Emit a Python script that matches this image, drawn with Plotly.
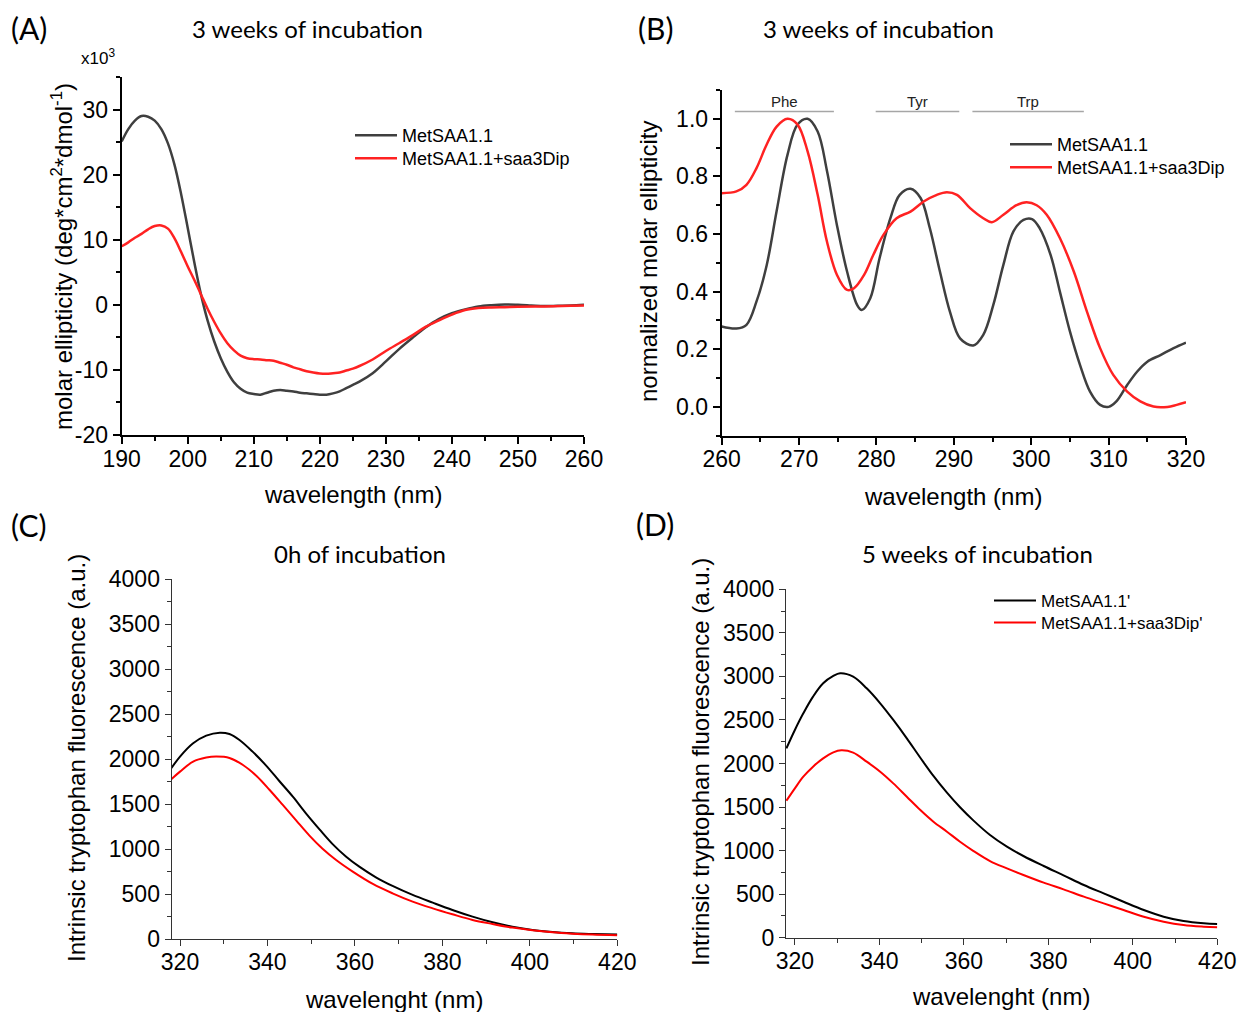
import plotly.graph_objects as go

# ---------------- data ----------------
# Panel A: far-UV CD, 3 weeks
A_wl_black = [190, 191, 192, 193, 194, 195, 196, 197, 198, 199, 200, 201, 202, 203, 204, 205, 206, 207, 208, 209,
              210, 211, 212, 213, 214, 215, 216, 217, 218, 219, 220, 221, 222, 223, 224, 225, 226, 228, 230, 232,
              234, 236, 238, 240, 242, 244, 246, 248, 250, 252, 254, 256, 258, 260]
A_black = [25.1, 27.0, 28.3, 29.0, 28.9, 28.3, 27.0, 24.8, 21.5, 17.0, 11.8, 6.5, 1.6, -2.4, -5.6, -8.2, -10.3, -11.9,
           -12.9, -13.5, -13.7, -13.8, -13.5, -13.2, -13.1, -13.2, -13.3, -13.5, -13.6, -13.7, -13.8, -13.8, -13.6,
           -13.3, -12.8, -12.3, -11.8, -10.5, -8.7, -6.8, -5.1, -3.5, -2.2, -1.3, -0.7, -0.25, -0.05, 0.05, 0.0,
           -0.1, -0.2, -0.15, -0.1, 0.0]
A_wl_red = [190, 191, 192, 193, 194, 195, 196, 197, 198, 199, 200, 201, 202, 203, 204, 205, 206, 207, 208, 209,
            210, 211, 212, 213, 214, 215, 216, 217, 218, 219, 220, 221, 222, 223, 224, 225, 226, 228, 230, 232,
            234, 236, 238, 240, 242, 244, 246, 248, 250, 254, 258, 260]
A_red = [9.0, 9.6, 10.3, 10.9, 11.6, 12.1, 12.2, 11.7, 10.2, 8.1, 5.9, 3.8, 1.6, -0.6, -2.6, -4.4, -5.9, -7.0, -7.8,
         -8.2, -8.35, -8.4, -8.5, -8.6, -8.9, -9.2, -9.6, -9.9, -10.2, -10.4, -10.55, -10.6, -10.5, -10.4, -10.1,
         -9.8, -9.4, -8.4, -7.1, -5.9, -4.7, -3.4, -2.4, -1.5, -0.8, -0.5, -0.4, -0.36, -0.3, -0.25, -0.15, -0.1]
A_y_ticks = [-20, -10, 0, 10, 20, 30]
A_y_ticktext = ['-20', '-10', '0', '10', '20', '30']

# Panel B: near-UV CD (normalized), 3 weeks
B_wl_black = [260, 261.9, 263.2, 264.5, 265.8, 267.1, 268.5, 269.8, 271.1, 272.4, 273.6, 274.9, 276.2, 277.5, 278.1,
              279.2, 280.4, 281.8, 283, 284.4, 285.7, 286.9, 288.2, 289.5, 290.8, 292.5, 293.8, 295.1, 296.4, 297.7,
              299, 300.1, 301.1, 302.5, 303.7, 305, 306.3, 307.6, 308.9, 310, 311, 312.4, 313.7, 315, 316.7, 318.4, 320]
B_black = [0.279, 0.272, 0.285, 0.366, 0.49, 0.68, 0.875, 0.98, 1.0, 0.956, 0.82, 0.63, 0.47, 0.354, 0.336, 0.377,
           0.516, 0.655, 0.736, 0.757, 0.725, 0.62, 0.47, 0.33, 0.238, 0.213, 0.25, 0.354, 0.493, 0.609, 0.649,
           0.652, 0.62, 0.528, 0.40, 0.262, 0.146, 0.053, 0.007, 0.0, 0.019, 0.076, 0.123, 0.157, 0.18, 0.204, 0.223]
B_wl_red = [260, 261.9, 263.2, 264.5, 265.8, 267.1, 268.5, 269.8, 271.1, 272.4, 273.6, 274.9, 276.2, 277.1, 278.4,
            279.6, 280.9, 282.6, 284.4, 286.1, 287.8, 289.1, 290.4, 292.1, 293.8, 294.9, 296.4, 298.1, 299.4, 300.7,
            302, 303.7, 305.5, 307.2, 308.9, 310.6, 312.4, 314.1, 315.8, 317.6, 318.8, 320]
B_red = [0.742, 0.748, 0.771, 0.829, 0.91, 0.973, 1.0, 0.98, 0.887, 0.736, 0.574, 0.458, 0.406, 0.412, 0.458, 0.528,
         0.597, 0.655, 0.678, 0.713, 0.736, 0.745, 0.736, 0.69, 0.655, 0.641, 0.667, 0.70, 0.71, 0.70, 0.667, 0.586,
         0.47, 0.331, 0.204, 0.111, 0.053, 0.019, 0.001, 0.0, 0.007, 0.016]
B_regions = ['Phe', 'Tyr', 'Trp']
B_region_start = [261.7, 279.9, 292.4]
B_region_end = [274.5, 290.7, 306.8]

# Panel C: Trp fluorescence, 0 h
C_wl_black = [318, 320, 323, 326, 329.1, 331.3, 333.6, 336.6, 339.7, 342.7, 345.8, 348.8, 351.9, 354.9, 358, 361,
              364.8, 368.6, 373.2, 377.8, 382.3, 386.9, 391.5, 396, 400.6, 405.2, 409.7, 414.3, 420]
C_black = [1900, 2030, 2178, 2263, 2296, 2281, 2215, 2085, 1930, 1759, 1585, 1400, 1222, 1058, 918, 807, 689, 593,
           493, 407, 326, 252, 189, 141, 104, 81, 67, 59, 52]
C_wl_red = [318, 320, 323, 326, 328.3, 331.3, 334.4, 337.5, 340.5, 343.5, 346.6, 349.6, 352.6, 355.7, 359.5, 364.1,
            368.6, 373.2, 377.8, 382.3, 386.9, 391.5, 396, 400.6, 405.2, 409.7, 414.3, 420]
C_red = [1778, 1863, 1974, 2019, 2030, 2015, 1937, 1815, 1659, 1493, 1319, 1152, 1006, 881, 752, 615, 511, 419, 344,
         278, 215, 170, 130, 100, 78, 63, 52, 44]

# Panel D: Trp fluorescence, 5 weeks
D_wl_black = [318, 320, 322, 324.3, 326.7, 329.1, 330.7, 333.8, 337, 340.2, 343.3, 346.5, 349.7, 352.8, 356, 359.1,
              362.3, 366.2, 370.2, 374.1, 378.9, 383.6, 388.4, 393.1, 397.8, 402.6, 407.3, 412, 416.8, 420]
D_black = [2174, 2385, 2576, 2768, 2921, 3005, 3036, 2997, 2863, 2691, 2500, 2289, 2066, 1857, 1665, 1497, 1344,
           1179, 1045, 938, 823, 716, 605, 509, 413, 318, 241, 191, 165, 157]
D_wl_red = [318, 320, 322, 324.3, 326.7, 329.1, 331, 333.8, 337, 340.2, 343.3, 346.5, 349.7, 352.8, 356, 359.1,
            362.3, 366.2, 370.2, 374.1, 378.9, 383.6, 388.4, 393.1, 397.8, 402.6, 407.3, 412, 416.8, 420]
D_red = [1573, 1715, 1849, 1964, 2059, 2128, 2151, 2125, 2021, 1906, 1772, 1619, 1466, 1332, 1217, 1102, 995, 880,
         796, 720, 632, 555, 471, 394, 318, 241, 184, 145, 126, 119]

# ---------------- layout helpers ----------------
W, H = 1237, 1012


def px(x):
    return x / W


def py(y):
    return 1 - y / H


ARIAL = 'Liberation Sans, Arial, sans-serif'
CAL = 'Lato, Open Sans, sans-serif'
GRAY = '#3f3f3f'
RED_AB = '#ff2222'


def axis(domain, rng, dtick, minor_dtick, anchor, lw, lc, tick0=None, ticklen=7, minorlen=4, standoff=0, **kw):
    d = dict(domain=domain, range=rng, anchor=anchor, showline=True, linecolor=lc, linewidth=lw,
             ticks='outside', ticklen=ticklen, tickwidth=lw, tickcolor=lc, automargin=False,
             ticklabelstandoff=standoff,
             minor=dict(dtick=minor_dtick, tick0=tick0, ticks='outside', ticklen=minorlen, tickwidth=lw,
                        tickcolor=lc, showgrid=False),
             showgrid=False, zeroline=False, fixedrange=True,
             tickfont=dict(family=ARIAL, size=23, color='black'))
    if dtick is not None:
        d['dtick'] = dtick
        d['tick0'] = tick0
    d.update(kw)
    return d


def legend_at(x, row_y, size, offset=18):
    return dict(x=px(x), y=py(row_y - offset), xanchor='left', yanchor='top',
                font=dict(family=ARIAL, size=size, color='black'),
                bgcolor='rgba(0,0,0,0)', itemwidth=42, tracegroupgap=0)


fig = go.Figure()

# Panel A
fig.add_trace(go.Scatter(x=A_wl_black, y=A_black, xaxis='x', yaxis='y', mode='lines', name='MetSAA1.1',
                         line=dict(color=GRAY, width=2.5, shape='spline'), legend='legend'))
fig.add_trace(go.Scatter(x=A_wl_red, y=A_red, xaxis='x', yaxis='y', mode='lines', name='MetSAA1.1+saa3Dip',
                         line=dict(color=RED_AB, width=2.5, shape='spline'), legend='legend2'))
# Panel B
fig.add_trace(go.Scatter(x=B_wl_black, y=B_black, xaxis='x2', yaxis='y2', mode='lines', name='MetSAA1.1',
                         line=dict(color=GRAY, width=2.5, shape='spline'), legend='legend3'))
fig.add_trace(go.Scatter(x=B_wl_red, y=B_red, xaxis='x2', yaxis='y2', mode='lines', name='MetSAA1.1+saa3Dip',
                         line=dict(color=RED_AB, width=2.5, shape='spline'), legend='legend4'))
# Panel C
fig.add_trace(go.Scatter(x=C_wl_black, y=C_black, xaxis='x3', yaxis='y3', mode='lines', name='MetSAA1.1',
                         line=dict(color='black', width=2, shape='spline'), showlegend=False))
fig.add_trace(go.Scatter(x=C_wl_red, y=C_red, xaxis='x3', yaxis='y3', mode='lines', name='MetSAA1.1+saa3Dip',
                         line=dict(color='#ff0000', width=2, shape='spline'), showlegend=False))
# Panel D
fig.add_trace(go.Scatter(x=D_wl_black, y=D_black, xaxis='x4', yaxis='y4', mode='lines', name="MetSAA1.1'",
                         line=dict(color='black', width=2, shape='spline'), legend='legend5'))
fig.add_trace(go.Scatter(x=D_wl_red, y=D_red, xaxis='x4', yaxis='y4', mode='lines', name="MetSAA1.1+saa3Dip'",
                         line=dict(color='#ff0000', width=2, shape='spline'), legend='legend6'))

# Phe / Tyr / Trp markers in panel B
for name, x0, x1 in zip(B_regions, B_region_start, B_region_end):
    fig.add_shape(type='line', xref='x2', yref='y2', x0=x0, x1=x1, y0=1.025, y1=1.025,
                  line=dict(color='#a6a6a6', width=1.5))
    fig.add_annotation(xref='x2', yref='y2', x=(x0 + x1) / 2, y=1.06, text=name, showarrow=False,
                       font=dict(family=ARIAL, size=15, color='#222'), yanchor='middle')

dA = [px(121.7), px(584)]
dB = [px(721.7), px(1186)]
dC = [px(171.7), px(617.3)]
dD = [px(786), px(1217.3)]

fig.update_layout(
    template='none',
    width=W, height=H, margin=dict(l=0, r=0, t=0, b=0, pad=0, autoexpand=False),
    paper_bgcolor='white', plot_bgcolor='white',
    xaxis=axis(dA, [190, 260], 10, 5, 'y', 2, 'black', tick0=190, standoff=-5),
    yaxis=axis([py(435), py(77)], [-20, 35], None, 5, 'x', 2, 'black', tick0=0,
               tickmode='array', tickvals=A_y_ticks, ticktext=A_y_ticktext),
    xaxis2=axis(dB, [260, 320], 10, 5, 'y2', 2, 'black', tick0=260, standoff=-5),
    yaxis2=axis([py(435.7), py(90)], [-0.1, 1.1], 0.2, 0.1, 'x2', 2, 'black', tick0=0, tickformat='.1f'),
    xaxis3=axis(dC, [318.1, 420], 20, 10, 'y3', 1.3, '#333', tick0=320, ticklen=6, minorlen=4, standoff=-4),
    yaxis3=axis([py(939.3), py(579.3)], [0, 4000], 500, 250, 'x3', 1.3, '#333', tick0=0, ticklen=6, minorlen=4),
    xaxis4=axis(dD, [317.9, 420], 20, 10, 'y4', 1.3, '#333', tick0=320, ticklen=6, minorlen=4, standoff=-3),
    yaxis4=axis([py(937.7), py(589.3)], [0, 4000], 500, 250, 'x4', 1.3, '#333', tick0=0, ticklen=6, minorlen=4),
    legend=legend_at(350, 135, 18),
    legend2=legend_at(350, 158, 18),
    legend3=legend_at(1005, 144, 18),
    legend4=legend_at(1005, 167, 18),
    legend5=legend_at(989, 600, 17, 17),
    legend6=legend_at(989, 622, 17, 17),
    showlegend=True,
)

# text annotations (panel letters, titles, axis titles)
texts = [
    ('(A)', 9, 28, 30, CAL, 0, 'left'),
    ('(B)', 636, 28, 30, CAL, 0, 'left'),
    ('(C)', 9, 525, 30, CAL, 0, 'left'),
    ('(D)', 634, 524, 30, CAL, 0, 'left'),
    ('3 weeks of incubation', 307, 29, 24, CAL, 0, 'center'),
    ('3 weeks of incubation', 878, 29, 24, CAL, 0, 'center'),
    ('0h of incubation', 360, 553, 24, CAL, 0, 'center'),
    ('5 weeks of incubation', 977, 553, 24, CAL, 0, 'center'),
    ('x10<sup>3</sup>', 98, 57, 17, ARIAL, 0, 'center'),
    ('wavelength (nm)', 353, 495, 24, ARIAL, 0, 'center'),
    ('wavelength (nm)', 953, 497, 24, ARIAL, 0, 'center'),
    ('wavelenght (nm)', 394, 999, 24, ARIAL, 0, 'center'),
    ('wavelenght (nm)', 1001, 996, 24, ARIAL, 0, 'center'),
    ('molar ellipticity (deg*cm<sup>2</sup>*dmol<sup>-1</sup>)', 62, 257, 24, ARIAL, -90, 'center'),
    ('normalized molar ellipticity', 648, 262, 24, ARIAL, -90, 'center'),
    ('Intrinsic tryptophan fluorescence (a.u.)', 76, 758, 24, ARIAL, -90, 'center'),
    ('Intrinsic tryptophan fluorescence (a.u.)', 700, 762, 24, ARIAL, -90, 'center'),
]
for t, x, y, s, fam, ang, xa in texts:
    fig.add_annotation(xref='paper', yref='paper', x=px(x), y=py(y), text=t, showarrow=False,
                       font=dict(family=fam, size=s, color='black'), textangle=ang,
                       xanchor=xa, yanchor='middle')

fig.write_html('out.html')
